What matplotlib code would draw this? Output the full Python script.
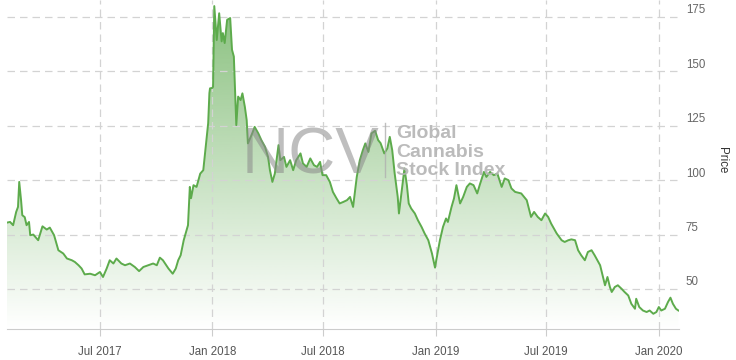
import numpy as np
import pandas as pd
import matplotlib
matplotlib.use("Agg")
from matplotlib import pyplot as plt
import matplotlib.dates as mdates
from matplotlib.lines import Line2D
from matplotlib.transforms import ScaledTranslation

# index level (approximate)
dates = [
    "2017-01-30", "2017-02-04", "2017-02-09", "2017-02-14", "2017-02-17", "2017-02-19",
    "2017-02-22", "2017-02-24", "2017-02-28", "2017-03-03", "2017-03-07", "2017-03-09",
    "2017-03-14", "2017-03-22", "2017-03-29", "2017-04-05", "2017-04-10", "2017-04-17",
    "2017-04-24", "2017-05-02", "2017-05-08", "2017-05-16", "2017-05-21", "2017-05-27",
    "2017-06-01", "2017-06-06", "2017-06-15", "2017-06-23", "2017-07-01", "2017-07-06",
    "2017-07-12", "2017-07-17", "2017-07-23", "2017-07-28", "2017-08-05", "2017-08-11",
    "2017-08-19", "2017-08-27", "2017-09-03", "2017-09-10", "2017-09-18", "2017-09-26",
    "2017-10-02", "2017-10-07", "2017-10-12", "2017-10-21", "2017-10-28", "2017-11-02",
    "2017-11-06", "2017-11-10", "2017-11-15", "2017-11-22", "2017-11-25", "2017-11-27",
    "2017-12-01", "2017-12-06", "2017-12-12", "2017-12-17", "2017-12-21", "2017-12-25",
    "2017-12-27", "2017-12-28", "2018-01-01", "2018-01-02", "2018-01-04", "2018-01-08",
    "2018-01-12", "2018-01-16", "2018-01-18", "2018-01-21", "2018-01-25", "2018-01-30",
    "2018-02-02", "2018-02-05", "2018-02-09", "2018-02-12", "2018-02-16", "2018-02-19",
    "2018-02-23", "2018-02-26", "2018-02-28", "2018-03-07", "2018-03-11", "2018-03-17",
    "2018-03-22", "2018-03-28", "2018-04-02", "2018-04-05", "2018-04-09", "2018-04-13",
    "2018-04-19", "2018-04-22", "2018-04-28", "2018-05-02", "2018-05-08", "2018-05-13",
    "2018-05-18", "2018-05-25", "2018-05-29", "2018-06-04", "2018-06-10", "2018-06-16",
    "2018-06-21", "2018-06-26", "2018-06-30", "2018-07-06", "2018-07-12", "2018-07-17",
    "2018-07-23", "2018-07-28", "2018-08-03", "2018-08-09", "2018-08-14", "2018-08-19",
    "2018-08-25", "2018-08-30", "2018-09-04", "2018-09-08", "2018-09-13", "2018-09-18",
    "2018-09-24", "2018-09-29", "2018-10-03", "2018-10-09", "2018-10-14", "2018-10-18",
    "2018-10-22", "2018-10-26", "2018-10-31", "2018-11-02", "2018-11-06", "2018-11-11",
    "2018-11-15", "2018-11-18", "2018-11-22", "2018-11-28", "2018-12-03", "2018-12-09",
    "2018-12-14", "2018-12-20", "2018-12-26", "2018-12-31", "2019-01-02", "2019-01-08",
    "2019-01-13", "2019-01-18", "2019-01-21", "2019-01-27", "2019-01-31", "2019-02-04",
    "2019-02-10", "2019-02-15", "2019-02-21", "2019-02-26", "2019-03-04", "2019-03-10",
    "2019-03-14", "2019-03-21", "2019-03-25", "2019-03-31", "2019-04-06", "2019-04-12",
    "2019-04-19", "2019-04-24", "2019-04-30", "2019-05-05", "2019-05-11", "2019-05-21",
    "2019-05-30", "2019-06-06", "2019-06-11", "2019-06-17", "2019-06-23", "2019-06-29",
    "2019-07-04", "2019-07-09", "2019-07-18", "2019-07-26", "2019-07-31", "2019-08-06",
    "2019-08-11", "2019-08-17", "2019-08-22", "2019-08-27", "2019-09-02", "2019-09-07",
    "2019-09-13", "2019-09-18", "2019-09-27", "2019-10-01", "2019-10-05", "2019-10-09",
    "2019-10-13", "2019-10-16", "2019-10-21", "2019-10-26", "2019-11-01", "2019-11-06",
    "2019-11-12", "2019-11-17", "2019-11-23", "2019-11-25", "2019-11-30", "2019-12-06",
    "2019-12-12", "2019-12-17", "2019-12-23", "2019-12-28", "2020-01-01", "2020-01-05",
    "2020-01-11", "2020-01-16", "2020-01-20", "2020-01-24", "2020-01-29", "2020-02-02",
]
prices = [
    80.5, 80.8, 79.3, 85.4, 87.7, 99.2,
    90.8, 83.9, 83.0, 79.3, 80.8, 74.7,
    75.0, 72.4, 78.8, 77.3, 78.2, 74.7,
    67.8, 66.3, 64.0, 63.2, 62.4, 60.9,
    59.4, 56.7, 57.0, 56.3, 57.8, 55.5,
    59.4, 63.2, 61.7, 64.0, 61.7, 60.9,
    61.7, 60.1, 58.2, 60.1, 60.9, 61.7,
    60.9, 64.4, 63.2, 59.4, 57.0, 59.4,
    63.2, 65.5, 72.4, 79.3, 96.9, 91.7,
    97.7, 96.9, 103.0, 104.6, 115.3, 126.2,
    140.0, 142.2, 142.4, 143.0, 180.0, 164.4,
    176.7, 163.8, 167.6, 163.0, 173.7, 174.5,
    159.9, 156.8, 125.3, 138.4, 136.8, 139.9,
    133.7, 127.6, 116.9, 121.5, 124.5, 121.5,
    118.4, 115.3, 110.6, 104.6, 99.2, 103.0,
    116.1, 109.2, 110.7, 106.1, 109.2, 104.6,
    109.2, 112.3, 107.7, 106.1, 110.0, 106.9,
    106.1, 108.4, 102.3, 102.3, 99.2, 94.6,
    91.6, 89.3, 90.0, 90.8, 92.3, 87.7,
    101.5, 109.2, 113.8, 116.9, 113.0, 121.5,
    122.7, 118.4, 117.0, 112.3, 114.6, 119.9,
    113.8, 103.1, 92.3, 84.7, 93.9, 105.4,
    97.7, 89.3, 87.0, 84.7, 81.6, 78.5,
    75.5, 72.4, 66.3, 59.8, 63.2, 72.4,
    78.5, 82.4, 80.8, 87.7, 91.6, 97.7,
    89.3, 92.3, 96.9, 98.5, 97.7, 93.9,
    97.7, 103.8, 101.5, 103.8, 102.3, 103.0,
    96.9, 100.8, 100.0, 96.2, 94.6, 93.9,
    90.8, 83.1, 85.4, 83.1, 81.6, 84.7,
    83.1, 80.0, 75.5, 72.4, 71.6, 72.4,
    72.8, 72.4, 67.8, 65.5, 63.2, 67.0,
    67.8, 65.5, 60.9, 56.3, 51.7, 55.5,
    50.9, 48.6, 50.9, 51.7, 50.1, 48.6,
    47.0, 43.2, 40.9, 45.5, 41.7, 40.1,
    39.4, 40.1, 38.6, 39.4, 41.7, 40.1,
    40.9, 44.0, 46.0, 43.2, 40.9, 40.1,
]
y_ticks = [50, 75, 100, 125, 150, 175]
x_ticks = ["2017-07-01", "2018-01-01", "2018-07-01", "2019-01-01", "2019-07-01", "2020-01-01"]

plt.rcParams['font.family'] = ['Liberation Sans', 'DejaVu Sans']

fig = plt.figure(figsize=(7.36, 3.6), dpi=100)
ax = fig.add_axes([7 / 736, 31 / 360, 672 / 736, 329 / 360])

x = mdates.date2num(pd.to_datetime(dates))
x0 = mdates.date2num(pd.Timestamp("2017-01-30"))
x1 = mdates.date2num(pd.Timestamp("2020-02-03"))
ymin, ymax = 31.6, 182.8

# vertical gradient under the line
grad = np.zeros((256, 1, 4))
grad[:, 0, :3] = np.array([95, 170, 80]) / 255
grad[:, 0, 3] = np.linspace(0.75, 0.0, 256)
im = ax.imshow(grad, aspect="auto", extent=[x0, x1, ymin, ymax], origin="upper",
               zorder=1, interpolation="bilinear")
poly = ax.fill_between(x, prices, ymin, facecolor="none", edgecolor="none")
im.set_clip_path(poly.get_paths()[0], transform=ax.transData)

ax.plot(x, prices, color="#5dab4c", lw=1.4, zorder=4)

ax.set_xlim(x0, x1)
ax.set_ylim(ymin, ymax)

ax.set_yticks(y_ticks)
ax.set_xticks(mdates.date2num(pd.to_datetime(x_ticks)))
ax.xaxis.set_major_formatter(mdates.DateFormatter("%b %Y"))
ax.yaxis.tick_right()
ax.tick_params(axis="y", length=0, pad=5, labelsize=8.3, labelcolor="#666666")
ax.tick_params(axis="x", length=5, color="#cccccc", pad=7, labelsize=8.3, labelcolor="#555555")
# y labels sit a little above their grid lines
shift = ScaledTranslation(0, 8 / 100, fig.dpi_scale_trans)
for lab in ax.get_yticklabels():
    lab.set_transform(lab.get_transform() + shift)

ax.grid(True, color="#d3d3d3", linestyle=(0, (6, 4)), lw=0.9)
ax.set_axisbelow(False)
for s in ["top", "left", "right"]:
    ax.spines[s].set_visible(False)
ax.spines["bottom"].set_color("#cccccc")

fig.text(722 / 736, 1 - 160 / 360, "Price", rotation=270, ha="center", va="center",
         fontsize=8.3, color="#333333")

# watermark
fig.text(242 / 736, 1 - 173 / 360, "NCV", fontsize=47, color="#8a8a8a", alpha=0.55,
         ha="left", va="baseline", zorder=3)
fig.add_artist(Line2D([385 / 736, 385 / 736], [1 - 123 / 360, 1 - 177 / 360],
                      color="#b0b0b0", lw=1, alpha=0.8))
for label, base in [("Global", 138), ("Cannabis", 157), ("Stock Index", 175)]:
    fig.text(396 / 736, 1 - base / 360, label, fontsize=14, fontweight="bold",
             color="#b4b4b4", alpha=0.9, ha="left", va="baseline")

fig.savefig("out.png", dpi=100)
